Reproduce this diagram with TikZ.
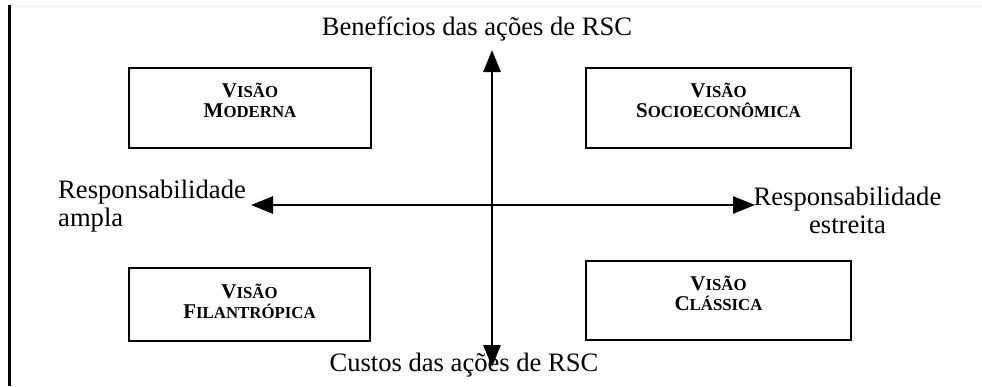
\documentclass[tikz,border=0pt]{standalone}
\usepackage{fontspec}
\setmainfont{Liberation Serif}
\usetikzlibrary{arrows.meta}
\newcommand{\scw}[2]{{\fontsize{21}{20}\selectfont #1}{\fontsize{16.8}{20}\selectfont #2}}
\begin{document}
\begin{tikzpicture}[x=1pt,y=-1pt,
  box/.style={draw, line width=2.9pt, inner sep=0pt, align=center,
    font=\bfseries\fontsize{21}{20}\selectfont},
  lbl/.style={inner sep=0pt, font=\fontsize{26.6}{28}\selectfont},
  axis/.style={line width=2.8pt,
    {Triangle[length=22pt,width=17pt]}-{Triangle[length=22pt,width=17pt]}}]
\useasboundingbox (0,0) rectangle (982,386);
% frame lines
\draw[gray!12, line width=1pt] (11,6) -- (982,6);
\draw[line width=2.7pt] (9.5,5) -- (9.5,386);
% boxes
\node[box, minimum width=242pt, minimum height=80pt, text height=49pt, text depth=31pt]
  (moderna) at (250,108) {\scw{V}{ISÃO}\\\scw{M}{ODERNA}};
\node[box, minimum width=265pt, minimum height=80pt, text height=49pt, text depth=31pt]
  (socio) at (718.5,108) {\scw{V}{ISÃO}\\\scw{S}{OCIOECONÔMICA}};
\node[box, minimum width=241pt, minimum height=73pt, text height=50pt, text depth=23pt]
  (filan) at (249.5,304.5) {\scw{V}{ISÃO}\\\scw{F}{ILANTRÓPICA}};
\node[box, minimum width=265pt, minimum height=79pt, text height=49pt, text depth=30pt]
  (classica) at (718.5,300.5) {\scw{V}{ISÃO}\\\scw{C}{LÁSSICA}};
% labels
\node[lbl, anchor=base] (ben) at (477,35) {Benefícios das ações de RSC};
\node[lbl, anchor=base] (cus) at (464,371) {Custos das ações de RSC};
\node[lbl, anchor=base west, align=left] (ampla) at (58,226) {Responsabilidade\\ampla};
\node[lbl, anchor=base, align=center] (estreita) at (847.5,233) {Responsabilidade\\estreita};
% axes
\coordinate (vtop) at (492,50);
\coordinate (vbot) at (492,367);
\coordinate (hl) at (251,205);
\coordinate (hr) at (755,205);
\draw[axis] (vbot) -- (vtop);
\draw[axis] (hl) -- (hr);
\end{tikzpicture}
\end{document}
